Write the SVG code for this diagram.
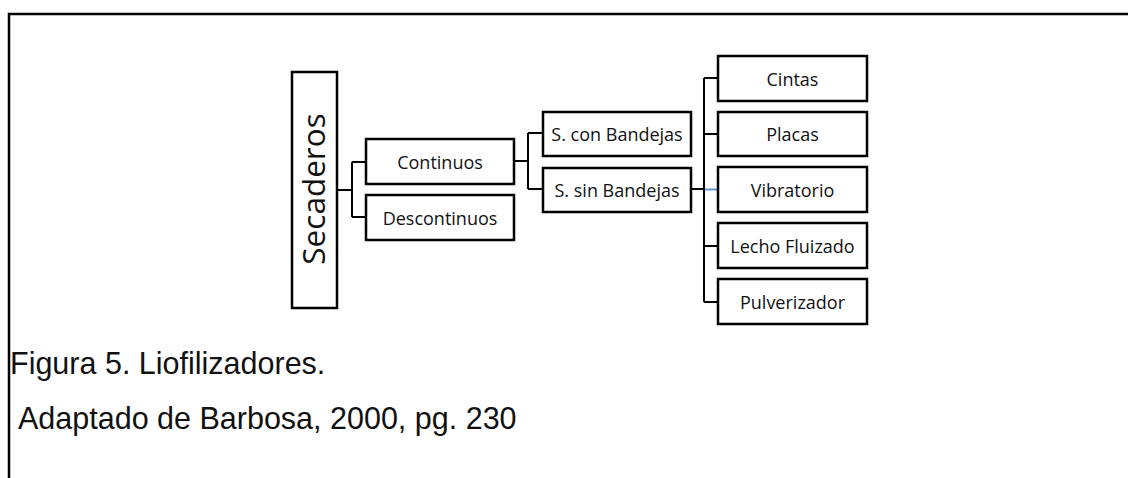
<svg xmlns="http://www.w3.org/2000/svg" width="1128" height="478" viewBox="0 0 1128 478">
  <style>
    .box { fill: #ffffff; stroke: #000000; stroke-width: 2.5; }
    .lbl { font-family: "Open Sans", "Noto Sans", sans-serif; font-size: 18px; fill: #111111; text-anchor: middle; dominant-baseline: central; }
    .big { font-family: "Open Sans", "Noto Sans", sans-serif; font-size: 31.5px; fill: #111111; text-anchor: middle; }
    .cap { font-family: "Liberation Sans", Arial, sans-serif; font-size: 30.5px; fill: #111111; }
    .ln { fill: none; stroke: #000000; stroke-width: 2; }
    .ln-blue { fill: none; stroke: #5b9bd5; stroke-width: 2; }
    .frame { fill: none; stroke: #000000; stroke-width: 2.5; }
  </style>

  <!-- outer frame: top and left edges only -->
  <path class="frame" d="M9,478 V14 H1128"/>

  <!-- connectors -->
  <g id="connectors">
    <path class="ln" d="M337,190 H352 M352,162 V217 M352,162 H366 M352,217 H366"/>
    <path class="ln" d="M514,161 H528 M528,133 V189 M528,133 H543 M528,189 H543"/>
    <path class="ln" d="M691,189 H704 M704,78 V302 M704,78 H718 M704,134 H718 M704,246 H718 M704,302 H718"/>
    <path class="ln-blue" d="M705,189.5 H718"/>
  </g>

  <g id="secaderos">
    <rect class="box" x="292" y="72" width="45" height="236"/>
    <text class="big" transform="translate(325,189) rotate(-90)">Secaderos</text>
  </g>

  <g id="continuos">
    <rect class="box" x="366" y="139" width="148" height="45"/>
    <text class="lbl" x="440" y="161.5">Continuos</text>
  </g>
  <g id="descontinuos">
    <rect class="box" x="366" y="195" width="148" height="45"/>
    <text class="lbl" x="440" y="217.5">Descontinuos</text>
  </g>

  <g id="con-bandejas">
    <rect class="box" x="543" y="112" width="148" height="44"/>
    <text class="lbl" x="617" y="134">S. con Bandejas</text>
  </g>
  <g id="sin-bandejas">
    <rect class="box" x="543" y="168" width="148" height="44"/>
    <text class="lbl" x="617" y="190">S. sin Bandejas</text>
  </g>

  <g id="cintas">
    <rect class="box" x="718" y="56" width="149" height="45"/>
    <text class="lbl" x="792.5" y="78.5">Cintas</text>
  </g>
  <g id="placas">
    <rect class="box" x="718" y="112" width="149" height="44"/>
    <text class="lbl" x="792.5" y="134">Placas</text>
  </g>
  <g id="vibratorio">
    <rect class="box" x="718" y="167" width="149" height="45"/>
    <text class="lbl" x="792.5" y="189.5">Vibratorio</text>
  </g>
  <g id="lecho-fluizado">
    <rect class="box" x="718" y="223" width="149" height="45"/>
    <text class="lbl" x="792.5" y="245.5">Lecho Fluizado</text>
  </g>
  <g id="pulverizador">
    <rect class="box" x="718" y="279" width="149" height="45"/>
    <text class="lbl" x="792.5" y="301.5">Pulverizador</text>
  </g>

  <text class="cap" x="10" y="374">Figura 5. Liofilizadores.</text>
  <text class="cap" x="18" y="429">Adaptado de Barbosa, 2000, pg. 230</text>
</svg>
